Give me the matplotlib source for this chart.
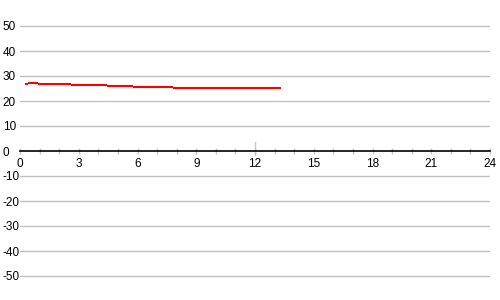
import numpy as np
import matplotlib.pyplot as plt
from matplotlib.ticker import MultipleLocator

# данные ступенчатой линии (начало, конец, значение)
seg_start = [0.26, 0.41, 0.90, 2.59, 4.42, 5.75, 7.79]
seg_end = [0.41, 0.90, 2.59, 4.42, 5.75, 7.79, 13.35]
seg_value = [26.7, 27.1, 26.7, 26.3, 25.9, 25.5, 25.1]

y_ticks = [-50, -40, -30, -20, -10, 0, 10, 20, 30, 40, 50]
x_ticks = [0, 3, 6, 9, 12, 15, 18, 21, 24]
marker_x = 12

plt.rcParams['font.family'] = ['Liberation Sans', 'DejaVu Sans']

fig = plt.figure(figsize=(5, 3), dpi=100)
ax = fig.add_axes([0.04, 0, 0.94, 1])
ax.set_xlim(0, 24)
ax.set_ylim(-59.6, 60.4)

# сетка
for v in y_ticks:
  if v != 0:
    ax.axhline(v, color='#c0c0c0', lw=1, zorder=1)

for s in ['top', 'right', 'left']:
  ax.spines[s].set_visible(False)
ax.spines['bottom'].set_position(('data', 0))
ax.spines['bottom'].set_color('black')
ax.spines['bottom'].set_linewidth(1.2)

ax.set_xticks(x_ticks)
ax.xaxis.set_minor_locator(MultipleLocator(1))
ax.tick_params(axis='x', which='both', direction='inout', length=4,
               color='#c4c4c4', width=1, labelsize=8.5, pad=3)
ax.set_yticks(y_ticks)
ax.set_yticklabels([str(v) for v in y_ticks])
# подписи оси y выровнены по левому краю
ax.tick_params(axis='y', length=0, labelsize=8.5, pad=12.5)
for lbl in ax.get_yticklabels():
  lbl.set_horizontalalignment('left')

ax.plot([marker_x, marker_x], [-1.6, 3.6], color='#c8c8c8', lw=1, zorder=2)

ax.hlines(seg_value, seg_start, seg_end, colors='red', lw=1.5, zorder=3)

fig.savefig('out.png', dpi=100)
